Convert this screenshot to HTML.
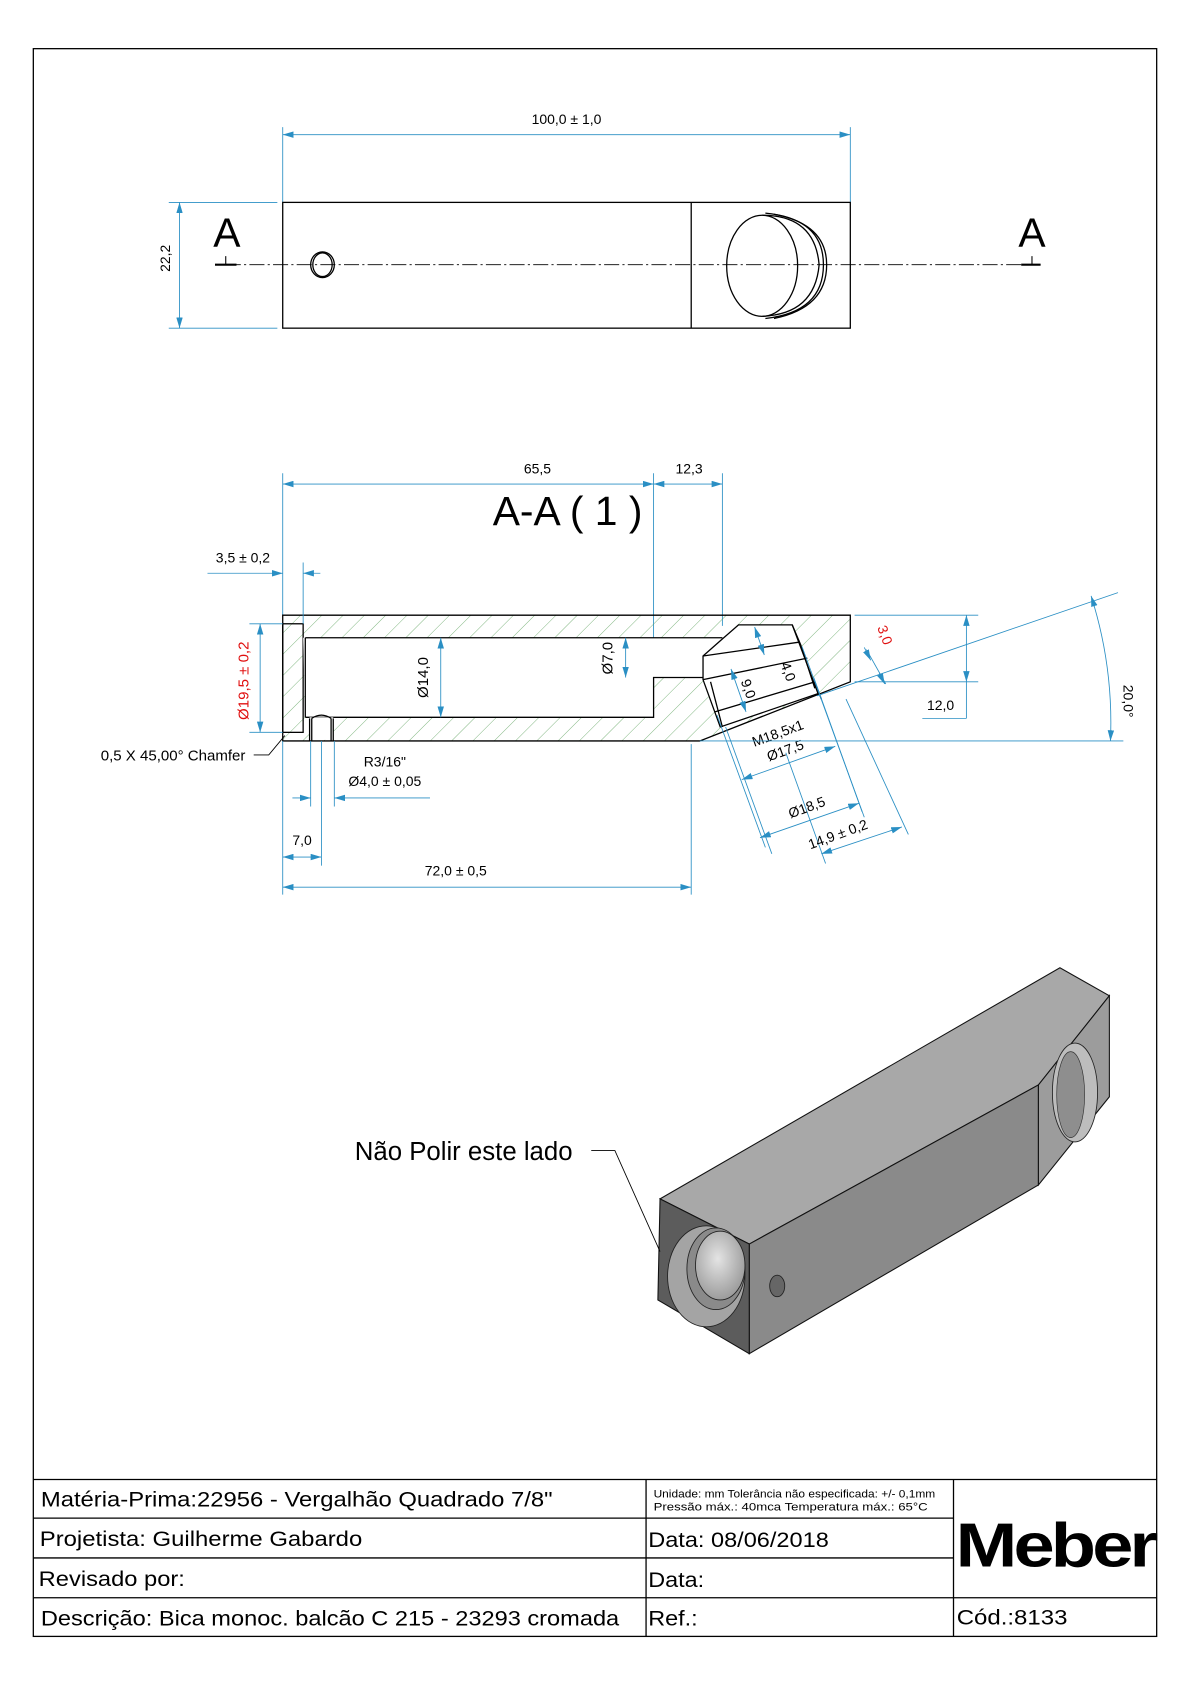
<!DOCTYPE html>
<html><head><meta charset="utf-8"><style>
html,body{margin:0;padding:0;background:#fff}
svg{display:block}
text{font-family:"Liberation Sans",sans-serif}
.n{font-family:"Liberation Sans Narrow","Liberation Sans",sans-serif}
.d{stroke:#2a8fc4;stroke-width:0.8;fill:none}
.k{stroke:#000;stroke-width:1.2;fill:none}
</style></head><body>
<svg width="1190" height="1684" viewBox="0 0 1107 1566" xmlns="http://www.w3.org/2000/svg">
<defs>
<marker id="ar" viewBox="0 0 10 6" refX="10" refY="3" markerWidth="10" markerHeight="6" markerUnits="userSpaceOnUse" orient="auto-start-reverse"><path d="M0,0 L10,3 L0,6z" fill="#2a8fc4"/></marker>
<pattern id="h" width="14" height="14" patternUnits="userSpaceOnUse" patternTransform="rotate(45)"><line x1="0" y1="0" x2="0" y2="14" stroke="#5aa05a" stroke-width="0.7"/></pattern>
<radialGradient id="g1" cx="0.45" cy="0.4" r="0.7"><stop offset="0" stop-color="#e4e4e4"/><stop offset="1" stop-color="#909090"/></radialGradient>
</defs>
<rect x="31" y="45" width="1045" height="1477" fill="none" stroke="#000" stroke-width="1.2"/>

<!-- TOP VIEW -->
<line class="d" x1="263" y1="118" x2="263" y2="188"/><line class="d" x1="791" y1="118" x2="791" y2="188"/>
<line class="d" x1="263" y1="125" x2="791" y2="125" marker-start="url(#ar)" marker-end="url(#ar)"/>
<text x="527" y="115" font-size="13" text-anchor="middle" class="n">100,0 ± 1,0</text>
<line class="d" x1="157" y1="188" x2="258" y2="188"/><line class="d" x1="157" y1="305" x2="258" y2="305"/>
<line class="d" x1="167" y1="188" x2="167" y2="305" marker-start="url(#ar)" marker-end="url(#ar)"/>
<text x="0" y="0" font-size="13" text-anchor="middle" transform="translate(158,240) rotate(-90)">22,2</text>
<rect x="263" y="188" width="528" height="117" class="k"/>
<line class="k" x1="643" y1="188" x2="643" y2="305"/>
<line x1="210" y1="246" x2="968" y2="246" stroke="#000" stroke-width="0.8" stroke-dasharray="14,3,2,3"/>
<line x1="200" y1="246" x2="220" y2="246" stroke="#000" stroke-width="2"/><line x1="210" y1="238" x2="210" y2="246" stroke="#000"/>
<line x1="950" y1="246" x2="968" y2="246" stroke="#000" stroke-width="2"/><line x1="960" y1="238" x2="960" y2="246" stroke="#000"/>
<text x="211" y="229" font-size="38" text-anchor="middle">A</text>
<text x="960" y="229" font-size="38" text-anchor="middle">A</text>
<ellipse cx="300" cy="246" rx="11" ry="12" class="k" stroke-width="0.9"/><ellipse cx="300" cy="246" rx="9" ry="11" class="k" stroke-width="0.7"/>
<path d="M709,200 A33,47 0 0 0 709,294" class="k" stroke-width="0.9"/>
<path d="M709,200 A33,47 0 0 1 709,294" class="k" stroke-width="0.9"/>
<path d="M709,200 Q758,200 762,246 Q758,292 709,294" class="k" stroke-width="0.9"/>
<path d="M712,198 Q766,203 766,246 Q766,290 712,296" class="k" stroke-width="0.9"/>
<path d="M720,199 Q769,208 769,246 Q769,286 720,296" class="k" stroke-width="0.9"/>

<!-- SECTION A-A -->
<text x="528" y="488" font-size="38" text-anchor="middle">A-A ( 1 )</text>
<line class="d" x1="263" y1="440" x2="263" y2="572"/><line class="d" x1="608" y1="440" x2="608" y2="594"/><line class="d" x1="672" y1="440" x2="672" y2="582"/>
<line class="d" x1="263" y1="450" x2="608" y2="450" marker-start="url(#ar)" marker-end="url(#ar)"/>
<line class="d" x1="608" y1="450" x2="672" y2="450" marker-start="url(#ar)" marker-end="url(#ar)"/>
<text x="500" y="440" font-size="13" text-anchor="middle">65,5</text>
<text x="641" y="440" font-size="13" text-anchor="middle">12,3</text>
<path d="M263,572 L791,572 L791,634 L651,689 L263,689 Z" fill="url(#h)" stroke="#000" stroke-width="1.2"/>
<rect x="263" y="580" width="19" height="101" fill="#fff" class="k" stroke-width="1"/>
<path d="M282,593 L608,593 L608,593 L660,593 L660,630 L608,630 L608,667 L284,667 Z" fill="#fff" stroke="none"/>
<path d="M284,593 L672,593 M284,667 L608,667 L608,630 L660,630 M284,593 L284,667" class="k"/>
<rect x="288" y="667" width="22" height="21" fill="#fff"/>
<path d="M288,668 L288,689 M310,668 L310,689 M290,668 L290,689 M308,668 L308,689" class="k" stroke-width="0.8"/>
<path d="M290,668 Q299,662 308,668" class="k" stroke-width="0.8"/>
<polygon points="654,610 671,595 687,581 737,581 761,645 670,676 654,632" fill="#fff" stroke="#000" stroke-width="1.2"/>
<path d="M654,610 L744,597 M654,632 L751,612 M665,662 L758,634 M758,634 L764,650" class="k" stroke-width="1"/>
<path d="M661,634 L672,676 M737,581 L745,600 L758,640" class="k" stroke-width="0.7"/>
<line class="d" x1="282" y1="523" x2="282" y2="580"/>
<line class="d" x1="193" y1="533" x2="263" y2="533" marker-end="url(#ar)"/>
<line class="d" x1="298" y1="533" x2="282" y2="533" marker-end="url(#ar)"/>
<text x="226" y="523" font-size="13" text-anchor="middle" class="n">3,5 ± 0,2</text>
<line class="d" x1="232" y1="580" x2="263" y2="580"/><line class="d" x1="232" y1="681" x2="263" y2="681"/>
<line class="d" x1="242" y1="580" x2="242" y2="681" marker-start="url(#ar)" marker-end="url(#ar)"/>
<text font-size="14" fill="#e01010" text-anchor="middle" transform="translate(231,633) rotate(-90)">Ø19,5 ± 0,2</text>
<line class="d" x1="410" y1="593" x2="410" y2="667" marker-start="url(#ar)" marker-end="url(#ar)"/>
<text font-size="14" text-anchor="middle" transform="translate(398,630) rotate(-90)">Ø14,0</text>
<line class="d" x1="582" y1="593" x2="582" y2="630" marker-start="url(#ar)" marker-end="url(#ar)"/>
<text font-size="14" text-anchor="middle" transform="translate(570,612) rotate(-90)">Ø7,0</text>
<text x="161" y="707" font-size="14" text-anchor="middle">0,5 X 45,00° Chamfer</text>
<path d="M236,702 L250,702 L265,684" stroke="#000" stroke-width="0.8" fill="none"/>
<line class="d" x1="289" y1="689" x2="289" y2="750"/><line class="d" x1="311" y1="689" x2="311" y2="750"/><line class="d" x1="299" y1="689" x2="299" y2="805"/>
<line class="d" x1="272" y1="742" x2="289" y2="742" marker-end="url(#ar)"/>
<line class="d" x1="400" y1="742" x2="311" y2="742" marker-end="url(#ar)"/>
<text x="358" y="713" font-size="13" text-anchor="middle">R3/16"</text>
<text x="358" y="731" font-size="13" text-anchor="middle" class="n">Ø4,0 ± 0,05</text>
<line class="d" x1="263" y1="689" x2="263" y2="832"/><line class="d" x1="643" y1="692" x2="643" y2="832"/>
<line class="d" x1="263" y1="797" x2="299" y2="797" marker-start="url(#ar)" marker-end="url(#ar)"/>
<text x="281" y="786" font-size="13" text-anchor="middle">7,0</text>
<line class="d" x1="263" y1="825" x2="643" y2="825" marker-start="url(#ar)" marker-end="url(#ar)"/>
<text x="424" y="814" font-size="13" text-anchor="middle" class="n">72,0 ± 0,5</text>
<line class="d" x1="702" y1="583" x2="711" y2="609" marker-start="url(#ar)" marker-end="url(#ar)"/>
<line class="d" x1="680" y1="622" x2="694" y2="662" marker-start="url(#ar)" marker-end="url(#ar)"/>
<text font-size="13" text-anchor="middle" transform="translate(729,626) rotate(70)">4,0</text>
<text font-size="13" text-anchor="middle" transform="translate(692,642) rotate(70)">9,0</text>
<line class="d" x1="667" y1="665" x2="712" y2="788"/><line class="d" x1="675" y1="676" x2="718" y2="794"/>
<line class="d" x1="746" y1="601" x2="804" y2="760"/><line class="d" x1="757" y1="630" x2="802" y2="755"/>
<line class="d" x1="787" y1="650" x2="845" y2="776"/><line class="d" x1="731" y1="700" x2="768" y2="803"/>
<line class="d" x1="690" y1="725" x2="777" y2="694" marker-start="url(#ar)" marker-end="url(#ar)"/>
<line class="d" x1="707" y1="779" x2="799" y2="747" marker-start="url(#ar)" marker-end="url(#ar)"/>
<line class="d" x1="764" y1="794" x2="839" y2="769" marker-start="url(#ar)" marker-end="url(#ar)"/>
<text font-size="13" text-anchor="middle" transform="translate(725,686) rotate(-20)">M18,5x1</text>
<text font-size="13" text-anchor="middle" transform="translate(732,702) rotate(-20)">Ø17,5</text>
<text font-size="13" text-anchor="middle" transform="translate(752,755) rotate(-20)">Ø18,5</text>
<text font-size="13" text-anchor="middle" class="n" transform="translate(781,780) rotate(-20)">14,9 ± 0,2</text>
<line class="d" x1="795" y1="572" x2="910" y2="572"/><line class="d" x1="795" y1="634" x2="910" y2="634"/>
<line class="d" x1="899" y1="572" x2="899" y2="634" marker-start="url(#ar)" marker-end="url(#ar)"/>
<line class="d" x1="899" y1="634" x2="899" y2="668"/><line class="d" x1="858" y1="668" x2="899" y2="668"/>
<text x="875" y="660" font-size="13" text-anchor="middle">12,0</text>
<line class="d" x1="651" y1="689" x2="1045" y2="689"/>
<line class="d" x1="760" y1="647" x2="1040" y2="551"/>
<line class="d" x1="806" y1="604" x2="824" y2="636"/>
<line class="d" x1="818" y1="626" x2="823" y2="636" marker-end="url(#ar)"/>
<line class="d" x1="804" y1="602" x2="810" y2="614" marker-end="url(#ar)"/>
<text font-size="13" fill="#e01010" text-anchor="middle" transform="translate(819,592) rotate(70)">3,0</text>
<path d="M1015,554 Q1036,620 1033,689" class="d" marker-start="url(#ar)" marker-end="url(#ar)"/>
<text font-size="13" text-anchor="middle" transform="translate(1045,652) rotate(90)">20,0°</text>

<!-- ISO VIEW -->
<polygon points="614,1115 986,900 1032,926 966,1009 697,1157" fill="#a8a8a8" stroke="#111" stroke-width="1"/>
<polygon points="697,1157 966,1009 966,1102 697,1259" fill="#8a8a8a" stroke="#111" stroke-width="1"/>
<polygon points="966,1009 1032,926 1032,1020 966,1102" fill="#9c9c9c" stroke="#111" stroke-width="1"/>
<polygon points="614,1115 697,1157 697,1259 612,1209" fill="#5c5c5c" stroke="#111" stroke-width="1"/>
<ellipse cx="657" cy="1187" rx="36" ry="47" fill="#a4a4a4" stroke="#222" stroke-width="0.8"/>
<ellipse cx="666" cy="1180" rx="27" ry="38" fill="#8a8a8a" stroke="#222" stroke-width="0.8"/>
<ellipse cx="670" cy="1177" rx="23" ry="32" fill="url(#g1)" stroke="#222" stroke-width="0.8"/>
<ellipse cx="723" cy="1196" rx="7" ry="10" fill="#666" stroke="#222" stroke-width="0.8"/>
<ellipse cx="1000" cy="1016" rx="21" ry="46" fill="#bdbdbd" stroke="#222" stroke-width="0.8"/>
<ellipse cx="996" cy="1018" rx="13" ry="40" fill="#8e8e8e" stroke="#333" stroke-width="0.6"/>
<text x="330" y="1079" font-size="24">Não Polir este lado</text>
<path d="M550,1070 L572,1070 L614,1164" stroke="#000" stroke-width="0.8" fill="none"/>

<!-- TITLE BLOCK -->
<g stroke="#000" stroke-width="1.2" fill="none">
<line x1="31" y1="1376" x2="1076" y2="1376"/>
<line x1="31" y1="1412" x2="887" y2="1412"/>
<line x1="31" y1="1449" x2="887" y2="1449"/>
<line x1="31" y1="1486" x2="1076" y2="1486"/>
<line x1="601" y1="1376" x2="601" y2="1522"/>
<line x1="887" y1="1376" x2="887" y2="1522"/>
</g>
<text x="38" y="1401" font-size="20" class="n" textLength="476" lengthAdjust="spacingAndGlyphs">Matéria-Prima:22956 - Vergalhão Quadrado 7/8"</text>
<text x="608" y="1393" font-size="10" class="n" textLength="262" lengthAdjust="spacingAndGlyphs">Unidade: mm Tolerância não especificada: +/- 0,1mm</text>
<text x="608" y="1405" font-size="10" class="n" textLength="255" lengthAdjust="spacingAndGlyphs">Pressão máx.: 40mca       Temperatura máx.: 65°C</text>
<text x="37" y="1438" font-size="20" class="n" textLength="300" lengthAdjust="spacingAndGlyphs">Projetista: Guilherme Gabardo</text>
<text x="603" y="1439" font-size="20" class="n" textLength="168" lengthAdjust="spacingAndGlyphs">Data: 08/06/2018</text>
<text x="36" y="1475" font-size="20" class="n" textLength="136" lengthAdjust="spacingAndGlyphs">Revisado por:</text>
<text x="603" y="1476" font-size="20" class="n" textLength="52" lengthAdjust="spacingAndGlyphs">Data:</text>
<text x="38" y="1512" font-size="20" class="n" textLength="538" lengthAdjust="spacingAndGlyphs">Descrição: Bica monoc. balcão C 215 - 23293 cromada</text>
<text x="603" y="1512" font-size="20" class="n" textLength="46" lengthAdjust="spacingAndGlyphs">Ref.:</text>
<text x="890" y="1511" font-size="20" class="n" textLength="103" lengthAdjust="spacingAndGlyphs">Cód.:8133</text>
<text x="889" y="1457" font-size="58" font-weight="bold" textLength="185" lengthAdjust="spacingAndGlyphs" letter-spacing="-3">Meber</text>
</svg>
</body></html>
